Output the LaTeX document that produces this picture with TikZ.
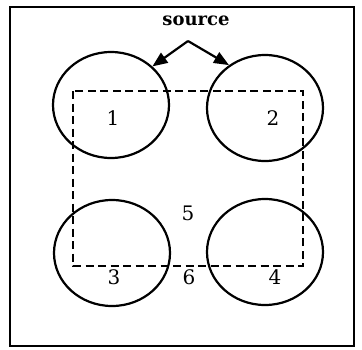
\documentclass[tikz,border=0pt]{standalone}
\usepackage{fontspec}
\setmainfont{DejaVu Serif}
\usetikzlibrary{arrows.meta, shapes.geometric}

\begin{document}
\begin{tikzpicture}[
    x=1pt, y=-1pt,
    zone/.style={
        ellipse, draw=black, line width=2.2pt,
        minimum width=116pt, minimum height=106pt, inner sep=0pt
    },
    num/.style={font=\fontsize{20}{24}\selectfont, inner sep=0pt},
    region/.style={draw=black, line width=2.4pt, dash pattern=on 8pt off 4.5pt},
    arr/.style={-{Triangle[length=15pt, width=12pt]}, line width=2.2pt, black}
]
\useasboundingbox (0,0) rectangle (362,349);

% Frame
\draw[line width=2pt] (10,7) rectangle (354,346);

% Sensing zones
\node[zone] (c1) at (111,105) {};
\node[zone] (c2) at (265,108) {};
\node[zone] (c3) at (112,253) {};
\node[zone] (c4) at (265,252) {};

% Dashed region
\draw[region] (73,91) rectangle (303,266);

% Labels
\node[num] (n1) at (113,118) {1};
\node[num] (n2) at (273,118) {2};
\node[num] (n3) at (114,277) {3};
\node[num] (n4) at (275,277) {4};
\node[num] (n5) at (188,213) {5};
\node[num] (n6) at (189,277) {6};

\node[font=\fontsize{18}{21}\selectfont\bfseries, inner sep=0pt] (src) at (196,21) {source};

% Arrows
\coordinate (apex) at (188,41);
\foreach \t in {c1.43, c2.130} {
    \draw[arr] (apex) -- (\t);
}

\end{tikzpicture}
\end{document}
